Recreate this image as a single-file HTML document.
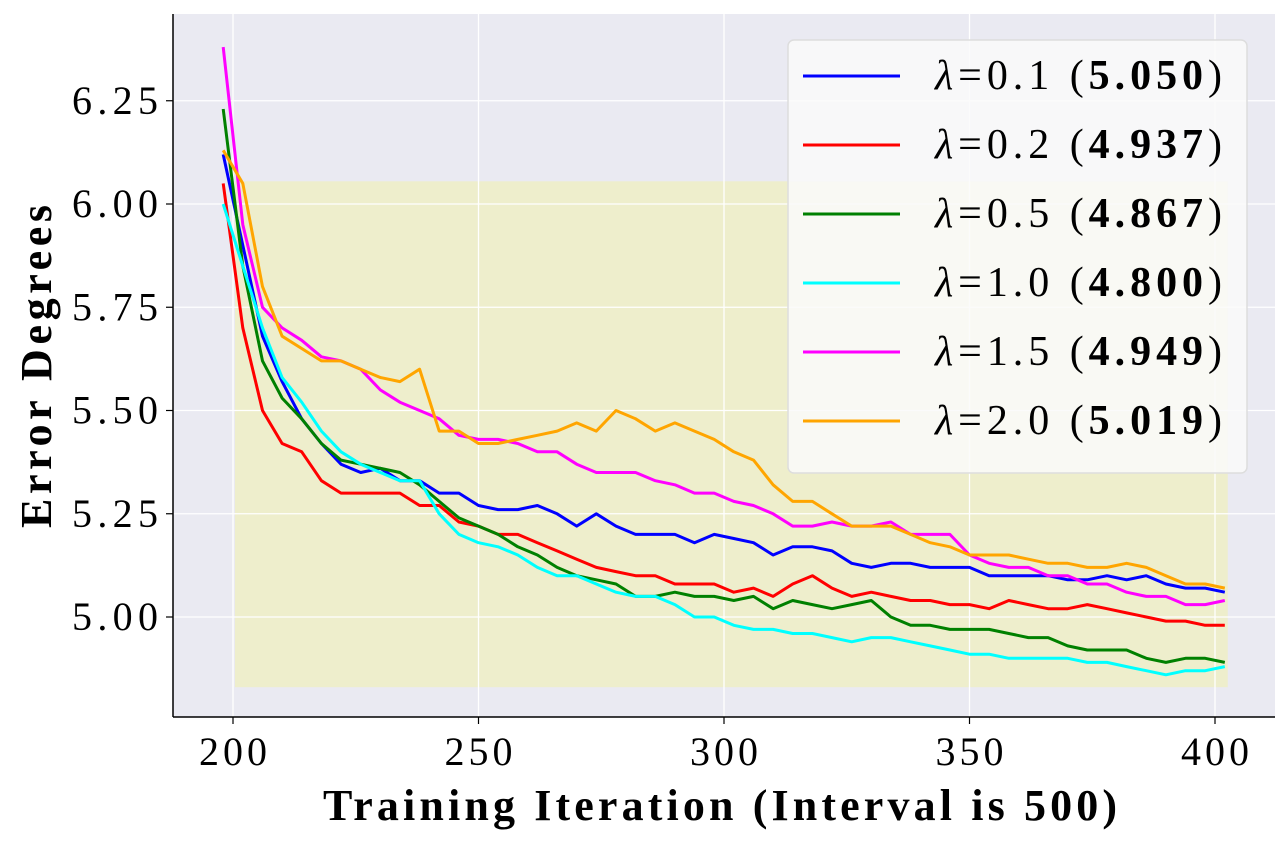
<!DOCTYPE html>
<html><head><meta charset="utf-8"><style>
body{margin:0;background:#fff;}
svg text{font-family:"Liberation Serif",serif;fill:#000;}
</style></head><body>
<svg id="chart" width="1280" height="840" xmlns="http://www.w3.org/2000/svg"></svg>
<script>
const xStart = 198, xStep = 4;
const xTicks = [200, 250, 300, 350, 400];
const yTicks = [5.00, 5.25, 5.50, 5.75, 6.00, 6.25];
const labels = ["0.1","0.2","0.5","1.0","1.5","2.0"];
const scores = ["5.050","4.937","4.867","4.800","4.949","5.019"];
const colors = ["#0000ff","#ff0000","#008000","#00ffff","#ff00ff","#ffa500"];
const s01 = [6.12,5.90,5.68,5.57,5.48,5.42,5.37,5.35,5.36,5.33,5.33,5.30,5.30,5.27,5.26,5.26,5.27,5.25,5.22,5.25,5.22,5.20,5.20,5.20,5.18,5.20,5.19,5.18,5.15,5.17,5.17,5.16,5.13,5.12,5.13,5.13,5.12,5.12,5.12,5.10,5.10,5.10,5.10,5.09,5.09,5.10,5.09,5.10,5.08,5.07,5.07,5.06];
const s02 = [6.05,5.70,5.50,5.42,5.40,5.33,5.30,5.30,5.30,5.30,5.27,5.27,5.23,5.22,5.20,5.20,5.18,5.16,5.14,5.12,5.11,5.10,5.10,5.08,5.08,5.08,5.06,5.07,5.05,5.08,5.10,5.07,5.05,5.06,5.05,5.04,5.04,5.03,5.03,5.02,5.04,5.03,5.02,5.02,5.03,5.02,5.01,5.00,4.99,4.99,4.98,4.98];
const s05 = [6.23,5.85,5.62,5.53,5.48,5.42,5.38,5.37,5.36,5.35,5.32,5.28,5.24,5.22,5.20,5.17,5.15,5.12,5.10,5.09,5.08,5.05,5.05,5.06,5.05,5.05,5.04,5.05,5.02,5.04,5.03,5.02,5.03,5.04,5.00,4.98,4.98,4.97,4.97,4.97,4.96,4.95,4.95,4.93,4.92,4.92,4.92,4.90,4.89,4.90,4.90,4.89];
const s10 = [6.00,5.85,5.70,5.58,5.52,5.45,5.40,5.37,5.35,5.33,5.33,5.25,5.20,5.18,5.17,5.15,5.12,5.10,5.10,5.08,5.06,5.05,5.05,5.03,5.00,5.00,4.98,4.97,4.97,4.96,4.96,4.95,4.94,4.95,4.95,4.94,4.93,4.92,4.91,4.91,4.90,4.90,4.90,4.90,4.89,4.89,4.88,4.87,4.86,4.87,4.87,4.88];
const s15 = [6.38,5.95,5.75,5.70,5.67,5.63,5.62,5.60,5.55,5.52,5.50,5.48,5.44,5.43,5.43,5.42,5.40,5.40,5.37,5.35,5.35,5.35,5.33,5.32,5.30,5.30,5.28,5.27,5.25,5.22,5.22,5.23,5.22,5.22,5.23,5.20,5.20,5.20,5.15,5.13,5.12,5.12,5.10,5.10,5.08,5.08,5.06,5.05,5.05,5.03,5.03,5.04];
const s20 = [6.13,6.05,5.80,5.68,5.65,5.62,5.62,5.60,5.58,5.57,5.60,5.45,5.45,5.42,5.42,5.43,5.44,5.45,5.47,5.45,5.50,5.48,5.45,5.47,5.45,5.43,5.40,5.38,5.32,5.28,5.28,5.25,5.22,5.22,5.22,5.20,5.18,5.17,5.15,5.15,5.15,5.14,5.13,5.13,5.12,5.12,5.13,5.12,5.10,5.08,5.08,5.07];
const series = [s01,s02,s05,s10,s15,s20];

const NS="http://www.w3.org/2000/svg";
const svg=document.getElementById('chart');
function X(v){return 233+(v-200)*4.91;}
function Y(v){return 617-(v-5)*413;}
function mk(tag,attrs,parent){const e=document.createElementNS(NS,tag);for(const k in attrs)e.setAttribute(k,attrs[k]);(parent||svg).appendChild(e);return e;}

const bg=mk('rect',{x:173,y:14,width:1102,height:703,fill:'#eaeaf2'});


const hl=mk('rect',{x:X(200.4),y:Y(6.055),width:X(402.6)-X(200.4),height:Y(4.83)-Y(6.055),fill:'#eeeecc'});



xTicks.forEach(t=>{
  const g=mk('line',{x1:X(t),x2:X(t),y1:14,y2:717,stroke:'#fff','stroke-width':1.3});
  
  
  mk('line',{x1:X(t),x2:X(t),y1:717,y2:724,stroke:'#000','stroke-width':1.2});
  const tx=mk('text',{x:X(t)-34,y:765,'font-size':40,textLength:68,lengthAdjust:'spacing'});
  tx.textContent=t;
  
  
});
yTicks.forEach(t=>{
  const g=mk('line',{x1:173,x2:1275,y1:Y(t),y2:Y(t),stroke:'#fff','stroke-width':1.3});
  
  
  mk('line',{x1:166,x2:173,y1:Y(t),y2:Y(t),stroke:'#000','stroke-width':1.2});
  const tx=mk('text',{x:72,y:Y(t)+13,'font-size':40,textLength:86,lengthAdjust:'spacing'});
  tx.textContent=t.toFixed(2);
  
  
});
mk('line',{x1:173,x2:173,y1:14,y2:717,stroke:'#000','stroke-width':1.5});
mk('line',{x1:173,x2:1275,y1:717,y2:717,stroke:'#000','stroke-width':1.5});

series.forEach((s,i)=>{
  const pts=s.map((v,j)=>X(xStart+j*xStep).toFixed(1)+','+Y(v).toFixed(1)).join(' ');
  const p=mk('polyline',{points:pts,fill:'none',stroke:colors[i],'stroke-width':3,'stroke-linejoin':'round'});
  
  
});

const lg=mk('g',{});


mk('rect',{x:788,y:40,width:459,height:433,rx:6,fill:'#fafafa','fill-opacity':0.85,stroke:'#ddd','stroke-width':1.5},lg);
labels.forEach((l,i)=>{
  const y=76+i*69;
  mk('line',{x1:803,x2:900,y1:y,y2:y,stroke:colors[i],'stroke-width':3},lg);
  const t=mk('text',{x:935,y:y+13,'font-size':42,textLength:287,lengthAdjust:'spacing'},lg);
  t.innerHTML='<tspan font-style="italic">λ</tspan>=' + l + ' (<tspan font-weight="bold">' + scores[i] + '</tspan>)';
  
  
});

const xt=mk('text',{x:323,y:820,'font-size':44,'font-weight':'bold',textLength:794,lengthAdjust:'spacing'});
xt.textContent='Training Iteration (Interval is 500)';


const yt=mk('text',{x:0,y:0,'font-size':44,'font-weight':'bold',textLength:323,lengthAdjust:'spacing',transform:'translate(51,528) rotate(-90)'});
yt.textContent='Error Degrees';


</script>
</body></html>
